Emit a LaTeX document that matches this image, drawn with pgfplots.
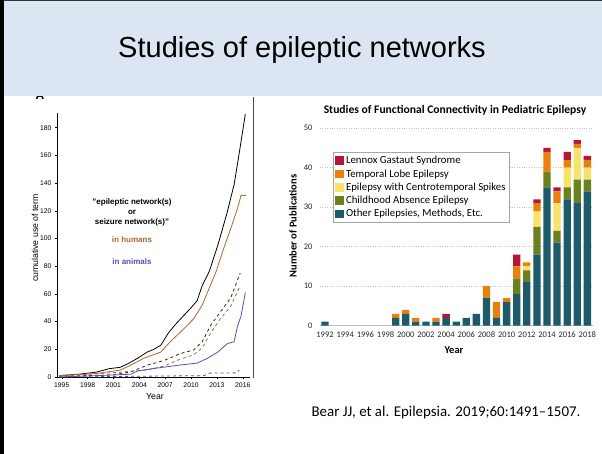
\documentclass[border=0pt]{standalone}
\usepackage{fontspec}
\setmainfont{Liberation Sans}
\newfontfamily\carlito{Carlito}
\usepackage{pgfplots}
\usepackage{pgfplotstable}
\pgfplotsset{compat=1.18}
\definecolor{band}{HTML}{DCE6F2}
\definecolor{cOther}{HTML}{1D5B6B}
\definecolor{cCAE}{HTML}{6B801E}
\definecolor{cECTS}{HTML}{F7E26B}
\definecolor{cTLE}{HTML}{E9800E}
\definecolor{cLGS}{HTML}{B81638}
\definecolor{brownL}{HTML}{B4642C}
\definecolor{blueL}{HTML}{5B4DBE}

\pgfplotstableread{
year other cae ects tle lgs
1992 1 0 0 0 0
1993 0 0 0 0 0
1994 0 0 0 0 0
1995 0 0 0 0 0
1996 0 0 0 0 0
1997 0 0 0 0 0
1998 0 0 0 0 0
1999 2 0 0 1 0
2000 3 0 0 1 0
2001 1 0 0 1 0
2002 1 0 0 0 0
2003 1 0 0 1 0
2004 2 0 0 0 1
2005 1 0 0 0 0
2006 2 0 0 0 0
2007 3 0 0 0 0
2008 7 0 0 3 0
2009 2 0 0 4 0
2010 6 0 0 1 0
2011 8 4 0 3 3
2012 11 3 1 1 0
2013 18 7 4 2 1
2014 35 4 0 5 1
2015 21 3 7 3 1
2016 32 3 5 2 2
2017 31 6 8 1 1
2018 34 3 3 2 1
}\pubs

\begin{document}
\begin{tikzpicture}[x=1pt,y=1pt]
\useasboundingbox (0,0) rectangle (602,454);
\fill[white] (0,0) rectangle (602,454);
\node[font=\bfseries\fontsize{12}{12}\selectfont] at (40,454-95) {A};
\fill[band] (3,454-96) rectangle (602,453);
\draw[black!80, line width=1.5pt] (0,453.25) -- (602,453.25);
\fill[black] (0,0) rectangle (4,454);
\node[font=\fontsize{29}{33}\selectfont] at (302,454-50) {Studies of epileptic networks};

% left chart
\draw[black!70, line width=0.6pt] (253,454-97) -- (253,454-378);
\begin{axis}[at={(57pt,77pt)}, anchor=south west, scale only axis,
  width=193pt, height=264pt,
  xmin=1994.45, xmax=2016.84, ymin=0, ymax=190.6,
  axis lines*=left, axis line style={black, line width=0.5pt},
  xtick={1995,1998,...,2016}, ytick={0,20,...,180},
  tick align=outside, major tick length=2pt, tick style={black, line width=0.4pt},
  /pgf/number format/1000 sep={}, /pgf/number format/assume math mode=true,
  tick label style={font=\fontsize{6.8}{7}\selectfont},
  clip=false]
\addplot[black, line width=0.8pt] coordinates {
(1994.7,1) (1997,2) (1999,3.5) (2000.5,6) (2001.8,7) (2002.8,10) (2003.8,13.5) (2004.9,18) (2005.7,20) (2006.5,23) (2007.4,32) (2008.2,38) (2008.8,42) (2010,50) (2010.7,55) (2011.3,66) (2012.1,76) (2013.1,95) (2014.2,119) (2015.0,139) (2015.6,162) (2016.3,190)};
\addplot[brownL, line width=0.8pt] coordinates {
(1994.7,1) (1999,2.5) (2001.8,5) (2003,8.5) (2004.5,13.5) (2006.5,18) (2007.6,25.5) (2009.2,35) (2010.3,42) (2011.3,52) (2012.1,64) (2012.9,76) (2013.8,93) (2014.6,107) (2015.4,122) (2015.8,131) (2016.4,131)};
\addplot[black!85, line width=0.8pt, dashed] coordinates {
(1994.7,0.5) (2001,1.5) (2003,3.7) (2004.9,8.5) (2006.9,12) (2008.8,17) (2010.3,19.5) (2011.3,25.5) (2012.3,37.5) (2013.4,47) (2014.6,57) (2015.7,75)};
\addplot[brownL, line width=0.8pt, dashed] coordinates {
(1994.7,0.5) (2001.8,3.5) (2004.9,5) (2006.9,8) (2008.8,13) (2010.3,16) (2011.3,21) (2012.3,32) (2013.4,42) (2014.6,51) (2015.7,66)};
\addplot[blueL, line width=0.8pt] coordinates {
(1994.7,0) (1999,1) (2003,2) (2003.8,4.4) (2005.5,6) (2008.8,8.7) (2010.7,10) (2011.9,13.5) (2013.1,18) (2014.2,24) (2015.0,25.5) (2015.4,37) (2015.8,44) (2016.3,61)};
\addplot[blueL, line width=0.8pt, dashed] coordinates {
(1994.7,0) (2003.5,0.5) (2011.5,1) (2012.2,2.8) (2015.3,3) (2015.6,5)};
\end{axis}
\node[rotate=90, font=\fontsize{8.7}{10}\selectfont] at (35,454-238) {cumulative use of term};
\node[font=\fontsize{8.7}{10}\selectfont] at (155,454-397) {Year};
\node[font=\bfseries\fontsize{8}{10}\selectfont, align=center] at (132,454-212) {"epileptic network(s)\\or\\seizure network(s)"};
\node[font=\bfseries\fontsize{8}{10}\selectfont, text=brownL] at (132,454-240) {in humans};
\node[font=\bfseries\fontsize{8}{10}\selectfont, text=blueL] at (132,454-262) {in animals};

% right chart
\begin{axis}[at={(320pt,128.3pt)}, anchor=south west, scale only axis,
  width=273pt, height=205.4pt,
  xmin=1991.5, xmax=2018.56, ymin=0, ymax=52,
  ybar stacked, bar width=7.3pt,
  axis lines*=left, y axis line style={draw=none}, x axis line style={gray!50, line width=0.6pt},
  tick style={draw=none},
  xtick={1992,1994,...,2018}, ytick={0,10,...,50},
  ymajorgrids, grid style={gray!45, dotted, line width=0.6pt},
  /pgf/number format/1000 sep={}, /pgf/number format/assume math mode=true,
  tick label style={font=\carlito\fontsize{8.5}{9}\selectfont, text=black!85},
  xticklabel style={yshift=-2.5pt},
  yticklabel style={xshift=-4pt},
  legend cell align=left,
  legend style={at={(0.048,0.846)}, anchor=north west, draw=gray!70, line width=0.6pt,
    font=\carlito\fontsize{10.8}{12}\selectfont, row sep=0.3pt, inner sep=2pt},
  legend image code/.code={\fill[#1, draw=none] (0pt,-4.4pt) rectangle (8.6pt,4.4pt);},
  reverse legend]
\addplot[fill=cOther, draw=none] table[x=year, y=other] {\pubs};
\addplot[fill=cCAE, draw=none] table[x=year, y=cae] {\pubs};
\addplot[fill=cECTS, draw=none] table[x=year, y=ects] {\pubs};
\addplot[fill=cTLE, draw=none] table[x=year, y=tle] {\pubs};
\addplot[fill=cLGS, draw=none] table[x=year, y=lgs] {\pubs};
\legend{Other Epilepsies{,} Methods{,} Etc., Childhood Absence Epilepsy, Epilepsy with Centrotemporal Spikes, Temporal Lobe Epilepsy, Lennox Gastaut Syndrome}
\end{axis}
\node[font=\carlito\bfseries\fontsize{11.6}{13}\selectfont] at (455,454-110) {Studies of Functional Connectivity in Pediatric Epilepsy};
\node[rotate=90, font=\carlito\bfseries\fontsize{10.5}{12}\selectfont] at (293,454-226) {Number of Publications};
\node[font=\carlito\bfseries\fontsize{10.5}{12}\selectfont] at (454,454-350) {Year};

\node[font=\carlito\fontsize{14.9}{17}\selectfont] at (446,454-413) {Bear JJ, et al. Epilepsia. 2019;60:1491–1507.};
\end{tikzpicture}
\end{document}
